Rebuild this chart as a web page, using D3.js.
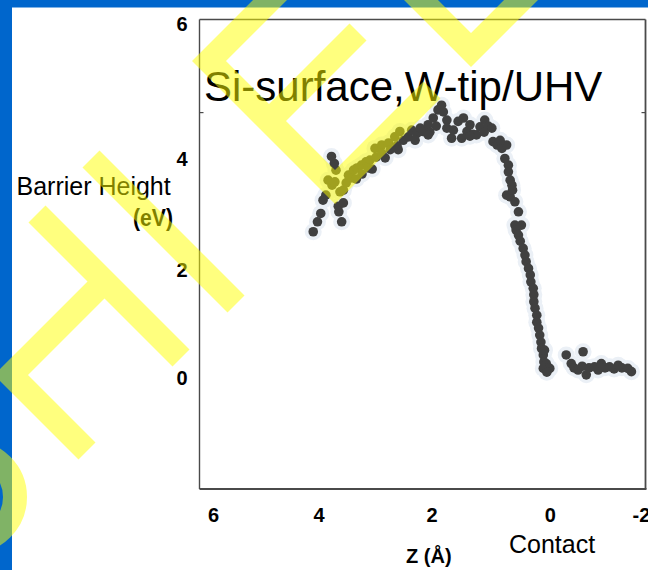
<!DOCTYPE html>
<html>
<head>
<meta charset="utf-8">
<script src="https://cdn.jsdelivr.net/npm/d3@7"></script>
<style>
  html, body { margin: 0; padding: 0; background: #ffffff; }
  svg { display: block; }
</style>
</head>
<body>
<svg id="chart" width="648" height="570"></svg>
<script>
// ---------- data ----------
const chartTitle = "Si-surface,W-tip/UHV";
const yLabelLine1 = "Barrier Height";
const yLabelLine2 = "(eV)";
const xLabel = "Z (Å)";
const xNote = "Contact";

const zTicks = [6, 4, 2, 0, -2];
const zTickLabels = ["6", "4", "2", "0", "-2"];
const heightTicks = [0, 2, 4, 6];
const heightTickLabels = ["0", "2", "4", "6"];
const sideTicks = [4.68];

// tip-sample distance Z (Å)
const zValues = [
  4.10, 4.02, 3.96, 3.92, 3.87, 3.59, 3.64, 3.65, 3.56, 3.77,
  3.72, 3.69, 3.83, 3.76, 3.71, 3.62, 3.56, 3.51, 3.47, 3.38,
  3.41, 3.32, 3.24, 3.23, 3.16, 3.09, 3.12, 3.00, 2.98, 2.88,
  2.88, 2.76, 2.73, 2.65, 2.61, 2.56, 2.50, 2.41, 2.35, 2.26,
  2.20, 2.15, 2.06, 2.03, 1.97, 1.92, 1.89, 1.83, 1.80, 1.74,
  1.74, 1.66, 1.63, 1.55, 1.49, 1.46, 1.40, 1.35, 1.30, 1.24,
  1.18, 1.10, 1.04, 0.98, 0.96, 0.89, 0.81, 0.73, 0.76, 0.70,
  0.70, 0.67, 0.64, 0.73, 0.67, 0.59, 0.53, 0.59, 0.57, 0.53,
  0.50, 0.45, 0.42, 0.40, 0.36, 0.33, 0.32, 0.28, 0.27, 0.27,
  0.25, 0.22, 0.22, 0.19, 0.17, 0.15, 0.14, 0.11, 0.09, 0.10,
  0.06, 0.11, 0.00, 0.05, -0.36, -0.73, -0.47, -0.53, -0.62, -0.71,
  -0.80, -0.86, -0.98, -1.06, -1.13, -1.21, -1.31, -1.41, -1.50, -1.58,
  -1.71, -1.79,
  3.33, 3.05, 2.82, 2.59, 2.29, 2.06, 1.35, 1.11, 0.84, 0.63,
  0.48
];
// barrier height (eV)
const barrierHeights = [
  2.68, 2.86, 3.01, 3.25, 3.34, 2.86, 3.04, 3.14, 3.20, 4.03,
  3.91, 3.79, 3.61, 3.52, 3.58, 3.40, 3.43, 3.56, 3.70, 3.79,
  3.65, 3.83, 3.88, 3.72, 3.94, 3.97, 3.83, 4.15, 4.02, 4.20,
  4.08, 4.23, 4.13, 4.32, 4.19, 4.40, 4.27, 4.32, 4.42, 4.37,
  4.45, 4.40, 4.50, 4.39, 4.60, 4.48, 4.72, 4.79, 4.69, 4.57,
  4.45, 4.30, 4.42, 4.55, 4.30, 4.60, 4.40, 4.50, 4.36, 4.35,
  4.47, 4.57, 4.48, 4.45, 4.25, 4.20, 4.15, 4.20, 4.00, 3.88,
  3.76, 3.61, 3.52, 3.34, 3.31, 3.22, 3.04, 2.80, 2.71, 2.62,
  2.51, 2.38, 2.26, 2.14, 2.02, 1.90, 1.77, 1.65, 1.53, 1.40,
  1.28, 1.15, 1.02, 0.91, 0.78, 0.65, 0.53, 0.41, 0.50, 0.28,
  0.25, 0.16, 0.16, 0.09, 0.41, 0.47, 0.25, 0.17, 0.13, 0.20,
  0.04, 0.17, 0.19, 0.13, 0.25, 0.17, 0.19, 0.15, 0.22, 0.17,
  0.16, 0.10,
  3.63, 3.81, 4.01, 4.13, 4.27, 4.35, 4.33, 4.39, 4.27, 3.43,
  2.80
];

// ---------- layout ----------
const svg = d3.select("#chart");
const W = 648, H = 570;
const plot = { left: 199.5, top: 19.5, right: 645.5, bottom: 489 };

const x = d3.scaleLinear().domain(zTicks).range([213, 318.5, 431.5, 549.8, 641]);
const y = d3.scaleLinear().domain(heightTicks).range([377, 269.5, 158.5, 23.5]);

svg.append("rect").attr("width", W).attr("height", H).attr("fill", "#ffffff");

// blue slide frame
svg.append("rect").attr("x", 0).attr("y", 0).attr("width", W).attr("height", 7.5).attr("fill", "#0066cc");
svg.append("rect").attr("x", 0).attr("y", 0).attr("width", 12).attr("height", H).attr("fill", "#0066cc");

// plot frame
const frame = svg.append("g").attr("stroke", "#4a4a4a").attr("fill", "none");
frame.append("line").attr("x1", plot.left).attr("x2", plot.left).attr("y1", plot.top).attr("y2", plot.bottom).attr("stroke-width", 1.4);
frame.append("line").attr("x1", plot.left).attr("x2", plot.right).attr("y1", plot.top).attr("y2", plot.top).attr("stroke-width", 1.4);
frame.append("line").attr("x1", plot.right).attr("x2", plot.right).attr("y1", plot.top).attr("y2", plot.bottom).attr("stroke-width", 1.8);
frame.append("line").attr("x1", plot.left).attr("x2", plot.right + 1).attr("y1", plot.bottom).attr("y2", plot.bottom).attr("stroke-width", 2.2);
sideTicks.forEach(v => {
  frame.append("line").attr("x1", plot.left).attr("x2", plot.left + 4).attr("y1", y(v)).attr("y2", y(v)).attr("stroke-width", 1.2);
  frame.append("line").attr("x1", plot.right - 4).attr("x2", plot.right).attr("y1", y(v)).attr("y2", y(v)).attr("stroke-width", 1.2);
});

// axes (labels only)
const yAxis = d3.axisLeft(y).tickValues(heightTicks).tickSize(0).tickPadding(12)
  .tickFormat((d, i) => heightTickLabels[i]);
const gy = svg.append("g").attr("transform", `translate(${plot.left},0)`).call(yAxis);
gy.select(".domain").remove();
gy.selectAll("text").attr("font-family", "Liberation Sans, Arial, sans-serif")
  .attr("font-size", 20).attr("font-weight", "bold").attr("fill", "#000").attr("dy", "0.35em");

const xAxis = d3.axisBottom(x).tickValues(zTicks).tickSize(0).tickPadding(18)
  .tickFormat((d, i) => zTickLabels[i]);
const gx = svg.append("g").attr("transform", `translate(0,${plot.bottom})`).call(xAxis);
gx.select(".domain").remove();
gx.selectAll("text").attr("font-family", "Liberation Sans, Arial, sans-serif")
  .attr("font-size", 20).attr("font-weight", "bold").attr("fill", "#000")
  .attr("y", 25.5).attr("dy", "0.35em");

// data points: light halo then dark dots
const pts = zValues.map((z, i) => ({ z, h: barrierHeights[i] }));
svg.append("g").selectAll("circle").data(pts).join("circle")
  .attr("cx", d => x(d.z)).attr("cy", d => y(d.h)).attr("r", 8.5)
  .attr("fill", "#ebf0f6");
svg.append("g").selectAll("circle").data(pts).join("circle")
  .attr("cx", d => x(d.z)).attr("cy", d => y(d.h)).attr("r", 4.8)
  .attr("fill", "#404040");

// texts
const font = "Liberation Sans, Arial, sans-serif";
svg.append("text").attr("x", 204).attr("y", 101).attr("font-family", font)
  .attr("font-size", 42).attr("fill", "#000").text(chartTitle);
svg.append("text").attr("x", 16.5).attr("y", 195).attr("font-family", font)
  .attr("font-size", 25).attr("fill", "#000").text(yLabelLine1);
svg.append("text").attr("x", 173).attr("y", 226).attr("text-anchor", "end").attr("font-family", font)
  .attr("font-size", 24).attr("font-weight", "bold").attr("fill", "#000")
  .attr("textLength", 40).attr("lengthAdjust", "spacingAndGlyphs").text(yLabelLine2);
svg.append("text").attr("x", 406).attr("y", 563).attr("font-family", font)
  .attr("font-size", 20).attr("font-weight", "bold").attr("fill", "#000").text(xLabel);
svg.append("text").attr("x", 509).attr("y", 553).attr("font-family", font)
  .attr("font-size", 25).attr("fill", "#000").text(xNote);

// translucent yellow watermark strokes
const wm = svg.append("g").attr("opacity", 0.5).attr("fill", "none")
  .attr("stroke", "#ffff00").attr("stroke-width", 24)
  .attr("stroke-linecap", "butt").attr("stroke-linejoin", "miter");
const line = d3.line();
const strokes = [
  [[290, -20], [209, 61], [335, 187], [432, 90]],
  [[269, 121], [358, 32]],
  [[396, -25], [471, 50], [546, -25]],
  [[91, 159], [236, 304]],
  [[37, 214], [181, 358]],
  [[104, 282], [11, 375], [87, 451]]
];
strokes.forEach(s => wm.append("path").attr("d", line(s)));
wm.append("circle").attr("cx", -30).attr("cy", 497).attr("r", 45);
</script>
</body>
</html>
